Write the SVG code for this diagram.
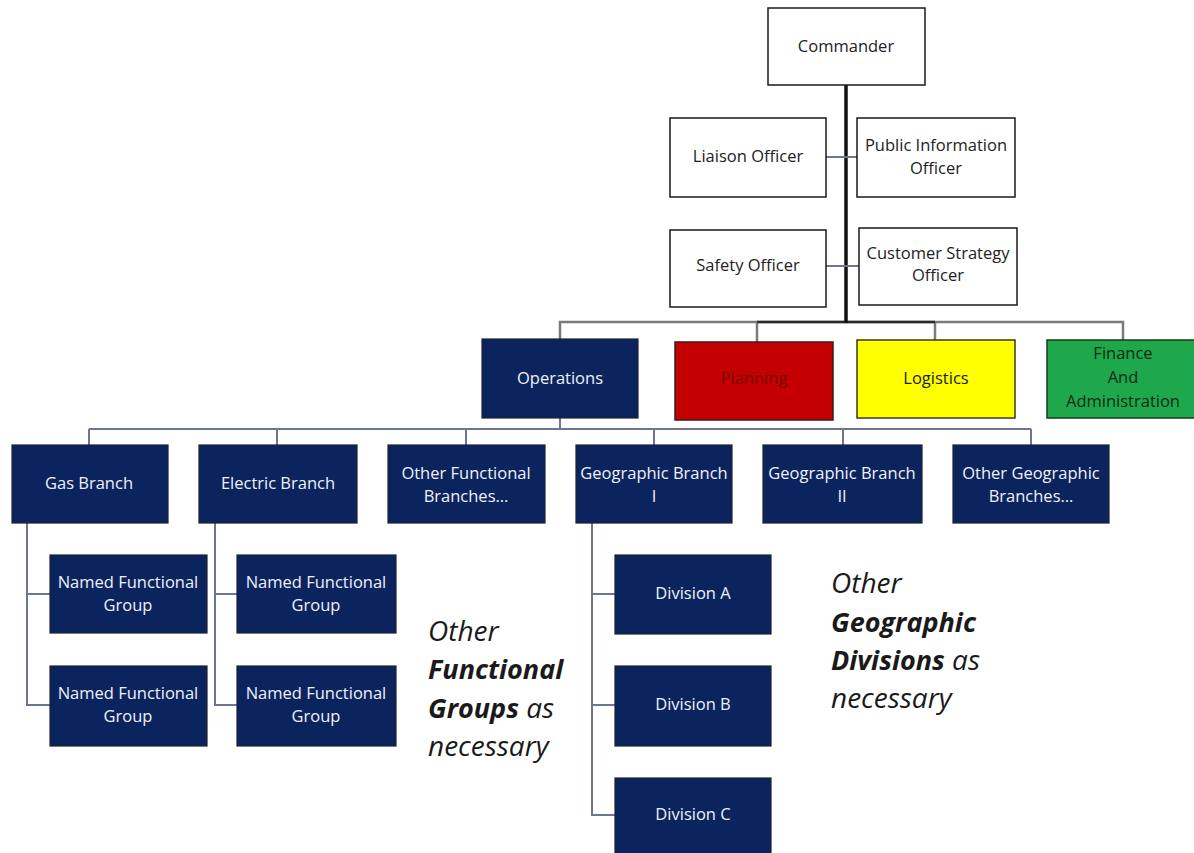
<svg xmlns="http://www.w3.org/2000/svg" width="1194" height="853" viewBox="0 0 1194 853">
<style>
.w{fill:#ffffff;stroke:#1a1a1a;stroke-width:1.5}
.n{fill:#0c245e;stroke:#1c2233;stroke-width:1.2}
.t{font-family:"Open Sans","Noto Sans",sans-serif;font-size:16.5px;text-anchor:middle}
.tw{fill:#eef1f8}
.tk{fill:#222222}
.c{fill:none;stroke:#6e7590;stroke-width:2}
.cg{fill:none;stroke:#7a7a7a;stroke-width:2.5}
.note{font-family:"Open Sans","Noto Sans",sans-serif;font-size:28px;font-style:italic;fill:#1a1a1a}
.b{font-weight:bold;font-size:27px}
</style>
<rect width="1194" height="853" fill="#ffffff"/>
<g id="connectors">
  <path class="cg" d="M560,339 V322 H1123 V340 M757,322 V342 M935,322 V340"/>
  <path d="M757,322 H935" fill="none" stroke="#2a2a2a" stroke-width="2.5"/>
  <path d="M846,85 V323" fill="none" stroke="#111111" stroke-width="3.5"/>
  <path class="c" d="M826,157 H857 M826,266 H859"/>
  <path class="c" d="M560,418 V429 M89,429 H1031 M89,429 V445 M277,429 V445 M466,429 V445 M654,429 V445 M843,429 V445 M1031,429 V445"/>
  <path class="c" d="M27,523 V705 H50 M27,594 H50"/>
  <path class="c" d="M215,523 V705 H237 M215,594 H237"/>
  <path class="c" d="M592,523 V815 H615 M592,594 H615 M592,705 H615"/>
</g>
<g id="commander"><rect class="w" x="768" y="8" width="157" height="77"/><text class="t tk" x="846" y="52">Commander</text></g>
<g id="liaison"><rect class="w" x="670" y="118" width="156" height="79"/><text class="t tk" x="748" y="162">Liaison Officer</text></g>
<g id="pio"><rect class="w" x="857" y="118" width="158" height="79"/><text class="t tk" x="936" y="151">Public Information</text><text class="t tk" x="936" y="174">Officer</text></g>
<g id="safety"><rect class="w" x="670" y="230" width="156" height="77"/><text class="t tk" x="748" y="271">Safety Officer</text></g>
<g id="cso"><rect class="w" x="859" y="228" width="158" height="77"/><text class="t tk" x="938" y="259">Customer Strategy</text><text class="t tk" x="938" y="281">Officer</text></g>
<g id="operations"><rect class="n" x="482" y="339" width="156" height="79"/><text class="t tw" x="560" y="384">Operations</text></g>
<g id="planning"><rect x="675" y="342" width="158" height="78" fill="#c40000" stroke="#3a1a1a" stroke-width="1.5"/><text class="t" x="754" y="384" fill="#7a0000">Planning</text></g>
<g id="logistics"><rect x="857" y="340" width="158" height="78" fill="#ffff00" stroke="#3a3a1a" stroke-width="1.5"/><text class="t" x="936" y="384" fill="#1a1a1a">Logistics</text></g>
<g id="finance"><rect x="1047" y="340" width="154" height="78" fill="#1fa84b" stroke="#1a3a1a" stroke-width="1.5"/><text class="t" x="1123" y="359" fill="#0d2a14">Finance</text><text class="t" x="1123" y="383" fill="#0d2a14">And</text><text class="t" x="1123" y="407" fill="#0d2a14">Administration</text></g>
<g id="gas-branch"><rect class="n" x="12" y="445" width="156" height="78"/><text class="t tw" x="89" y="489">Gas Branch</text></g>
<g id="electric-branch"><rect class="n" x="199" y="445" width="158" height="78"/><text class="t tw" x="278" y="489">Electric Branch</text></g>
<g id="other-functional"><rect class="n" x="388" y="445" width="157" height="78"/><text class="t tw" x="466" y="479">Other Functional</text><text class="t tw" x="466" y="502">Branches…</text></g>
<g id="geo-1"><rect class="n" x="576" y="445" width="156" height="78"/><text class="t tw" x="654" y="479">Geographic Branch</text><text class="t tw" x="654" y="502">I</text></g>
<g id="geo-2"><rect class="n" x="763" y="445" width="159" height="78"/><text class="t tw" x="842" y="479">Geographic Branch</text><text class="t tw" x="842" y="502">II</text></g>
<g id="other-geo"><rect class="n" x="953" y="445" width="156" height="78"/><text class="t tw" x="1031" y="479">Other Geographic</text><text class="t tw" x="1031" y="502">Branches…</text></g>
<g id="gas-group-1"><rect class="n" x="50" y="555" width="157" height="78"/><text class="t tw" x="128" y="588">Named Functional</text><text class="t tw" x="128" y="611">Group</text></g>
<g id="gas-group-2"><rect class="n" x="50" y="666" width="157" height="80"/><text class="t tw" x="128" y="699">Named Functional</text><text class="t tw" x="128" y="722">Group</text></g>
<g id="electric-group-1"><rect class="n" x="237" y="555" width="159" height="78"/><text class="t tw" x="316" y="588">Named Functional</text><text class="t tw" x="316" y="611">Group</text></g>
<g id="electric-group-2"><rect class="n" x="237" y="666" width="159" height="80"/><text class="t tw" x="316" y="699">Named Functional</text><text class="t tw" x="316" y="722">Group</text></g>
<g id="division-a"><rect class="n" x="615" y="555" width="156" height="79"/><text class="t tw" x="693" y="599">Division A</text></g>
<g id="division-b"><rect class="n" x="615" y="666" width="156" height="80"/><text class="t tw" x="693" y="710">Division B</text></g>
<g id="division-c"><rect class="n" x="615" y="778" width="156" height="80"/><text class="t tw" x="693" y="820">Division C</text></g>
<g id="note-functional">
  <text class="note" x="428" y="641">Other</text>
  <text class="note b" x="428" y="679">Functional</text>
  <text class="note" x="428" y="718"><tspan class="b">Groups</tspan> as</text>
  <text class="note" x="428" y="756">necessary</text>
</g>
<g id="note-geographic">
  <text class="note" x="831" y="593">Other</text>
  <text class="note b" x="831" y="632">Geographic</text>
  <text class="note" x="831" y="670"><tspan class="b">Divisions</tspan> as</text>
  <text class="note" x="831" y="708">necessary</text>
</g>
</svg>
